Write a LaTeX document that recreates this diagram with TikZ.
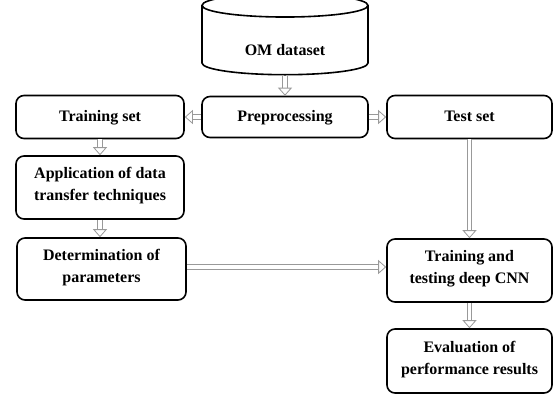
\documentclass[tikz,border=0pt]{standalone}
\usepackage{fontspec}
\setmainfont{Liberation Serif}
\usepackage{tikz}
\usetikzlibrary{arrows.meta, shapes.geometric, positioning}

\begin{document}
\begin{tikzpicture}[
  x=1pt, y=-1pt,
  stage/.style={draw, line width=1.6pt, rounded corners=8pt, align=center,
                font=\fontsize{16}{22}\selectfont\bfseries, inner sep=0pt,
                execute at begin node=\strut, execute at end node=\strut},
  flow/.style={draw=gray!80, line width=0.8pt, double=white, double distance=3.6pt,
               -{Triangle[open, width=14pt, length=8pt, line width=0.8pt]}},
  every node/.style={anchor=center}
]
  \useasboundingbox (0,0) rectangle (553,394);
  \node[draw, line width=1.6pt, cylinder, shape border rotate=90, aspect=0.29,
        minimum width=166pt, minimum height=81pt, inner sep=0pt, anchor=south,
        font=\fontsize{16}{22}\selectfont\bfseries] (data) at (285,75.5) {\raisebox{-15.5pt}[0pt][0pt]{OM dataset}};
  \node[stage, minimum width=166pt, minimum height=41pt] (prep)  at (285,117)   {Preprocessing};
  \node[stage, minimum width=168pt, minimum height=43pt] (train) at (100,117)   {Training set};
  \node[stage, minimum width=165pt, minimum height=43pt] (test)  at (469.5,117) {Test set};
  \node[stage, minimum width=168pt, minimum height=63pt] (appl)  at (100,187.5) {Application of data\\transfer techniques};
  \node[stage, minimum width=169pt, minimum height=62pt] (param) at (101.5,269) {Determination of\\parameters};
  \node[stage, minimum width=165pt, minimum height=63pt] (cnn)   at (469.5,270.5) {Training and\\testing deep CNN};
  \node[stage, minimum width=165pt, minimum height=64pt] (eval)  at (469.5,361) {Evaluation of\\performance results};
  % arrows between the stages
  \draw[flow] (data.south) -- (prep.north);
  \draw[flow] (prep.west) -- (train.east);
  \draw[flow] (prep.east) -- (test.west);
  \draw[flow] (train.south) -- (appl.north);
  \draw[flow] (appl.south) -- (appl.south |- param.north);
  \draw[flow] (test.south) -- (cnn.north);
  \draw[flow] ([yshift=2pt]param.east) -- ([yshift=2pt]param.east -| cnn.west);
  \draw[flow] (cnn.south) -- (eval.north);
\end{tikzpicture}
\end{document}
